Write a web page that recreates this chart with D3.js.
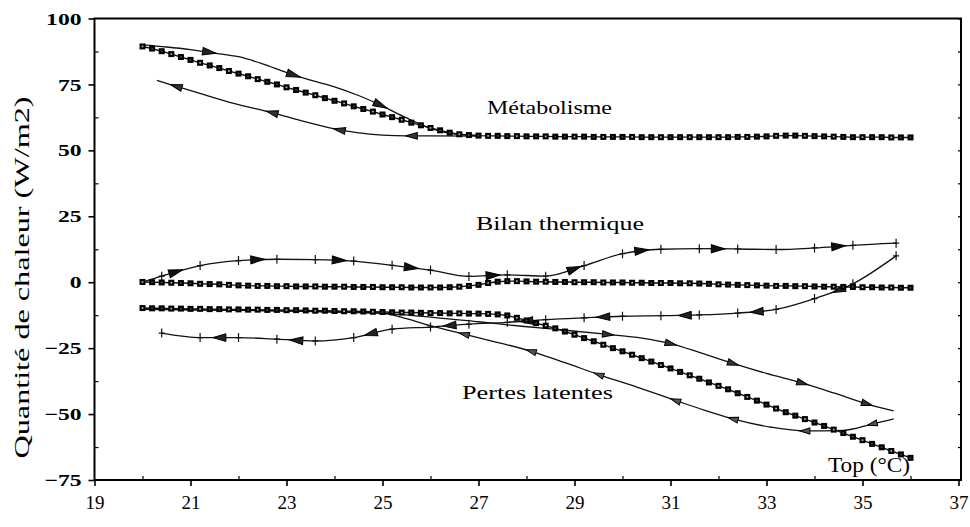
<!DOCTYPE html>
<html>
<head>
<meta charset="utf-8">
<script src="https://cdn.jsdelivr.net/npm/d3@7"></script>
<style>
  body { margin: 0; background: #fff; }
  svg { display: block; }
</style>
</head>
<body>
<svg id="chart" width="970" height="527"></svg>
<script>
// ---- Sampled series (steady ramp), one value every 0.2 °C from 20 to 36 °C ----
const sampleStart = 20;
const sampleStep = 0.2;

const metabolismeSampled = [
  89.4, 88.6, 87.6, 86.5, 85.4,
  84.3, 83.2, 82.2, 81.2, 80.1,
  79.1, 78.1, 77.0, 76.0, 75.0,
  73.9, 72.9, 71.9, 70.9, 69.8,
  68.8, 67.8, 66.7, 65.7, 64.7,
  63.6, 62.6, 61.6, 60.5, 59.5,
  58.5, 57.6, 56.7, 56.1, 55.8,
  55.6, 55.5, 55.5, 55.4, 55.4,
  55.3, 55.3, 55.3, 55.2, 55.2,
  55.2, 55.2, 55.1, 55.1, 55.1,
  55.1, 55.1, 55.0, 55.0, 55.0,
  55.0, 55.0, 55.0, 55.0, 55.0,
  55.0, 55.0, 55.1, 55.1, 55.2,
  55.3, 55.5, 55.6, 55.6, 55.5,
  55.4, 55.3, 55.2, 55.1, 55.0,
  55.0, 55.0, 55.0, 54.9, 54.9,
  54.9
];

const bilanSampled = [
  0.1, 0.0, -0.1, -0.2, -0.3,
  -0.4, -0.6, -0.7, -0.8, -1.0,
  -1.2, -1.3, -1.4, -1.4, -1.5,
  -1.5, -1.6, -1.6, -1.6, -1.7,
  -1.7, -1.7, -1.8, -1.8, -1.8,
  -1.9, -1.9, -1.9, -2.0, -2.0,
  -2.0, -2.0, -1.9, -1.7, -1.4,
  -1.0, -0.3, 0.2, 0.4, 0.4,
  0.3, 0.2, 0.2, 0.1, 0.1,
  0.0, 0.0, 0.0, -0.1, -0.1,
  -0.1, -0.2, -0.2, -0.3, -0.3,
  -0.3, -0.4, -0.4, -0.5, -0.6,
  -0.8, -0.9, -1.0, -1.1, -1.2,
  -1.3, -1.4, -1.4, -1.5, -1.5,
  -1.6, -1.7, -1.7, -1.8, -1.8,
  -1.9, -1.9, -2.0, -2.0, -2.1,
  -2.1
];

const pertesSampled = [
  -9.8, -9.9, -9.9, -10.0, -10.0,
  -10.1, -10.1, -10.2, -10.2, -10.3,
  -10.3, -10.4, -10.4, -10.5, -10.5,
  -10.6, -10.6, -10.7, -10.8, -10.8,
  -10.9, -11.0, -11.0, -11.1, -11.2,
  -11.3, -11.4, -11.5, -11.5, -11.6,
  -11.7, -11.7, -11.8, -11.8, -11.9,
  -11.9, -12.0, -12.2, -12.6, -13.5,
  -14.5, -15.5, -16.5, -17.5, -18.7,
  -19.9, -21.2, -22.4, -23.7, -25.0,
  -26.2, -27.5, -28.8, -30.1, -31.4,
  -32.7, -34.0, -35.3, -36.6, -38.0,
  -39.3, -40.6, -42.1, -43.5, -44.9,
  -46.4, -47.9, -49.3, -50.6, -51.9,
  -53.2, -54.5, -55.9, -57.2, -58.6,
  -59.9, -61.3, -62.6, -64.0, -65.3,
  -66.6
];

// ---- Cyclic runs: heating (rise) and cooling (fall) paths, [Top °C, W/m2] ----
const metabolismeRise = [
  [20.0, 90.0], [20.5, 89.2], [21.0, 88.2], [21.5, 86.9], [22.0, 85.5],
  [22.5, 82.8], [23.0, 79.5], [23.5, 76.6], [24.0, 74.1], [24.5, 70.8],
  [25.0, 66.8], [25.5, 62.3], [26.0, 58.4], [26.4, 56.4], [27.0, 55.6]
];
const metabolismeFall = [
  [20.3, 76.5], [20.7, 74.3], [21.3, 71.0], [21.9, 67.8], [22.7, 64.3],
  [23.3, 61.3], [23.9, 58.5], [24.5, 56.6], [25.0, 55.8], [25.5, 55.5],
  [26.0, 55.5], [27.0, 55.4]
];
const bilanRise = [
  [20.0, 0.0], [20.4, 2.3], [21.2, 6.3], [22.0, 8.2], [22.8, 8.7],
  [23.6, 8.6], [24.4, 8.0], [25.2, 6.4], [26.0, 4.6], [26.8, 2.2],
  [27.6, 2.8], [28.4, 2.3], [29.2, 6.3], [30.0, 10.8], [30.8, 12.5],
  [31.6, 12.7], [32.4, 12.6], [33.2, 12.4], [34.0, 13.0], [34.8, 14.0],
  [35.7, 14.8]
];
const bilanFall = [
  [20.4, -19.3], [21.2, -21.0], [22.0, -21.0], [22.8, -21.6], [23.6, -22.3],
  [24.4, -21.0], [25.2, -17.8], [26.0, -17.0], [26.8, -15.9], [27.6, -15.2],
  [28.4, -14.2], [29.2, -13.5], [30.0, -12.9], [30.8, -12.7], [31.6, -12.4],
  [32.4, -11.7], [33.2, -10.3], [34.0, -6.2], [34.8, -0.6], [35.7, 10.0]
];
const pertesRise = [
  [20.0, -10.2], [21.0, -10.4], [22.0, -10.6], [23.0, -10.9], [24.0, -11.2],
  [25.0, -11.8], [26.0, -13.2], [27.0, -15.0], [27.9, -16.7], [28.8, -18.2],
  [29.7, -19.8], [30.4, -21.2], [31.0, -23.3], [31.6, -26.6], [32.3, -30.8],
  [33.0, -34.6], [33.75, -38.3], [34.4, -42.0], [35.1, -46.2], [35.65, -48.8]
];
const pertesFall = [
  [20.0, -10.3], [21.0, -10.5], [22.0, -10.7], [23.0, -11.0], [24.0, -11.3],
  [25.0, -11.8], [25.5, -13.8], [26.0, -16.5], [26.7, -19.7], [27.3, -22.4],
  [28.1, -26.2], [28.8, -30.5], [29.5, -35.0], [30.3, -39.8], [31.1, -44.8],
  [31.7, -48.5], [32.3, -51.8], [33.1, -55.0], [33.8, -56.4], [34.6, -56.2],
  [35.2, -53.8], [35.65, -51.8]
];

// Where the direction arrows sit along each run (Top °C)
const metabolismeRiseArrows = [21.4, 23.15, 24.96];
const metabolismeFallArrows = [20.7, 22.7, 24.1, 25.6];
const bilanRiseArrows = [20.7, 22.4, 24.1, 25.6, 27.3, 29.0, 30.4, 32.0, 34.5];
const bilanFallArrows = [21.6, 23.2, 24.75, 26.4, 28.0, 29.6, 31.3, 32.8, 34.5];
const pertesRiseArrows = [29.7, 31.0, 32.3, 33.75, 35.1];
const pertesFallArrows = [26.7, 28.1, 29.5, 31.1, 32.3, 33.8, 35.2];

// Axes
const xTicks = [19, 21, 23, 25, 27, 29, 31, 33, 35, 37];
const xMinorTicks = [20, 22, 24, 26, 28, 30, 32, 34, 36];
const yTicks = [-75, -50, -25, 0, 25, 50, 75, 100];
const yMinorTicks = [-62.5, -37.5, -12.5, 12.5, 37.5, 62.5, 87.5];

const yTitle = "Quantité de chaleur (W/m2)";
const xTitle = "Top (°C)";
const curveLabels = ["Métabolisme", "Bilan thermique", "Pertes latentes"];

// ---------------------------------------------------------------------------
const svg = d3.select("#chart");
const serif = "'Liberation Serif', 'DejaVu Serif', serif";

const x = d3.scaleLinear().domain([19, 37]).range([94.5, 958.5]);
const y = d3.scaleLinear().domain([-75, 100]).range([480, 18.5]);

const sampledX = i => sampleStart + i * sampleStep;

// Frame
svg.append("rect")
  .attr("x", x(19)).attr("y", y(100))
  .attr("width", 961 - x(19)).attr("height", y(-75) - y(100))
  .attr("fill", "none").attr("stroke", "#000").attr("stroke-width", 2);

// Left axis: major ticks outward with labels, minor ticks inward
const yAxis = svg.append("g").attr("transform", `translate(${x(19)},0)`)
  .call(d3.axisLeft(y).tickValues(yTicks).tickSize(6).tickSizeOuter(0).tickFormat(d3.format("d")));
yAxis.select(".domain").remove();
yAxis.selectAll(".tick line").attr("stroke-width", 1.6);
yAxis.selectAll(".tick text")
  .attr("font-family", serif).attr("font-size", 17.5).attr("font-weight", "bold")
  .attr("fill", "#000")
  .attr("x", -13 / 1.35)
  .attr("transform", "scale(1.35,1)");

svg.append("g").attr("transform", `translate(${x(19)},0)`)
  .call(d3.axisLeft(y).tickValues(yMinorTicks).tickSize(-4).tickFormat(""))
  .call(g => g.select(".domain").remove())
  .selectAll("line").attr("stroke-width", 1.2);

// Right edge minor marks
svg.append("g").attr("transform", "translate(961,0)")
  .call(d3.axisRight(y).tickValues(yTicks.concat(yMinorTicks)).tickSize(-3).tickFormat(""))
  .call(g => g.select(".domain").remove())
  .selectAll("line").attr("stroke-width", 1.2);

// Bottom axis
const xAxis = svg.append("g").attr("transform", `translate(0,${y(-75)})`)
  .call(d3.axisBottom(x).tickValues(xTicks).tickSize(6).tickSizeOuter(0).tickFormat(d3.format("d")));
xAxis.select(".domain").remove();
xAxis.selectAll(".tick line").attr("stroke-width", 1.6);
xAxis.selectAll(".tick text")
  .attr("font-family", serif).attr("font-size", 19).attr("fill", "#000")
  .attr("dy", 0).attr("y", 29);

svg.append("g").attr("transform", `translate(0,${y(-75)})`)
  .call(d3.axisBottom(x).tickValues(xMinorTicks).tickSize(-4).tickFormat(""))
  .call(g => g.select(".domain").remove())
  .selectAll("line").attr("stroke-width", 1.2);

// Axis titles
svg.append("text")
  .attr("transform", `translate(29,${(95 + 460) / 2}) rotate(-90)`)
  .attr("text-anchor", "middle")
  .attr("font-family", serif).attr("font-size", 20).attr("fill", "#000")
  .attr("textLength", 362).attr("lengthAdjust", "spacingAndGlyphs")
  .text(yTitle);

svg.append("text")
  .attr("x", 828).attr("y", 472)
  .attr("font-family", serif).attr("font-size", 20).attr("fill", "#000")
  .attr("textLength", 82).attr("lengthAdjust", "spacingAndGlyphs")
  .text(xTitle);

// Curve labels
const labelPos = [
  { x: 487, y: 114, w: 125 },
  { x: 476, y: 230, w: 168 },
  { x: 462, y: 399, w: 151 }
];
curveLabels.forEach((t, i) => {
  svg.append("text")
    .attr("x", labelPos[i].x).attr("y", labelPos[i].y)
    .attr("font-family", serif).attr("font-size", 19.5).attr("fill", "#000")
    .attr("textLength", labelPos[i].w).attr("lengthAdjust", "spacingAndGlyphs")
    .text(t);
});

const plot = svg.append("g");

// ---- Cyclic runs ----
const runLine = d3.line().x(d => x(d[0])).y(d => y(d[1])).curve(d3.curveMonotoneX);

function drawRun(points, arrows, dir, arrowSize, crosses) {
  const path = plot.append("path")
    .datum(points)
    .attr("d", runLine)
    .attr("fill", "none").attr("stroke", "#111").attr("stroke-width", 1.3);

  if (crosses) {
    plot.append("g").selectAll("path")
      .data(crosses)
      .join("path")
      .attr("d", d => `M${x(d[0]) - 3},${y(d[1])}h6M${x(d[0])},${y(d[1]) - 4.5}v9`)
      .attr("stroke", "#111").attr("stroke-width", 1.2);
  }

  const node = path.node();
  const total = node.getTotalLength();
  const samples = d3.range(0, total, 0.5).map(l => node.getPointAtLength(l));
  samples.push(node.getPointAtLength(total));

  arrows.forEach(av => {
    const px = x(av);
    const k = d3.leastIndex(samples, s => Math.abs(s.x - px));
    const p = samples[k];
    const a = samples[Math.max(k - 5, 0)];
    const b = samples[Math.min(k + 5, samples.length - 1)];
    let ang = Math.atan2(b.y - a.y, b.x - a.x) * 180 / Math.PI;
    if (dir < 0) ang += 180;
    const L = arrowSize[0], W = arrowSize[1];
    plot.append("path")
      .attr("d", `M${L / 2},0L${-L / 2},${-W}L${-L / 2},${W}Z`)
      .attr("transform", `translate(${p.x},${p.y}) rotate(${ang})`)
      .attr("fill", arrowSize[2]).attr("stroke", "#000").attr("stroke-width", 1);
  });
}

drawRun(metabolismeRise, metabolismeRiseArrows, 1, [14, 3.8, "#222"]);
drawRun(metabolismeFall, metabolismeFallArrows, -1, [12, 3.4, "#333"]);
drawRun(bilanRise, bilanRiseArrows, 1, [14, 4, "#111"], bilanRise.slice(1));
drawRun(bilanFall, bilanFallArrows, -1, [13, 3.8, "#222"], bilanFall);
drawRun(pertesRise, pertesRiseArrows, 1, [11, 3.2, "#333"]);
drawRun(pertesFall, pertesFallArrows, -1, [10, 3, "#555"]);

// ---- Sampled series: thin line with dense square markers ----
const sampledLine = d3.line().x((d, i) => x(sampledX(i))).y(d => y(d));

[metabolismeSampled, bilanSampled, pertesSampled].forEach(series => {
  plot.append("path")
    .datum(series)
    .attr("d", sampledLine)
    .attr("fill", "none").attr("stroke", "#111").attr("stroke-width", 1.4);

  const m = plot.append("g").selectAll("g")
    .data(series)
    .join("g")
    .attr("transform", (d, i) => `translate(${x(sampledX(i))},${y(d)})`);
  m.append("rect")
    .attr("x", -3).attr("y", -3).attr("width", 6).attr("height", 6)
    .attr("fill", "#000");
  m.append("rect")
    .attr("x", -0.8).attr("y", -0.8).attr("width", 1.6).attr("height", 1.6)
    .attr("fill", "#fff").attr("opacity", (d, i) => (i % 3 === 0 ? 0.8 : 0.3));
});
</script>
</body>
</html>
